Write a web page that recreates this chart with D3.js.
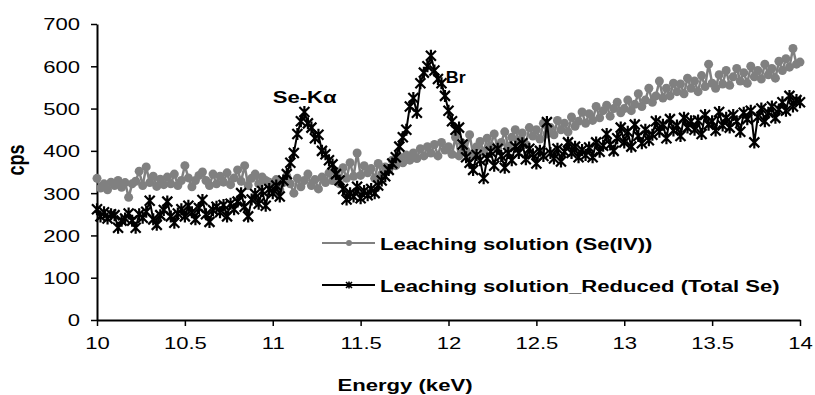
<!DOCTYPE html>
<html>
<head>
<meta charset="utf-8">
<script src="https://cdn.jsdelivr.net/npm/d3@7"></script>
<style>
  body { margin: 0; background: #fff; }
  svg { display: block; font-family: "Liberation Sans", Arial, sans-serif; }
</style>
</head>
<body>
<div id="container"></div>
<script>
// spectrum channels, 10 - 14 keV every 0.02 keV
const energy = d3.range(201).map(i => 10 + i * 0.02)

// Leaching solution (Se(IV)), cps
const seIV = [
    335, 312, 322, 308, 326, 318, 330, 314, 325, 290,
    322, 328, 352, 318, 362, 325, 340, 316, 333, 320,
    338, 322, 345, 318, 330, 365, 336, 315, 330, 342,
    350, 330, 318, 345, 322, 340, 326, 348, 320, 336,
    355, 328, 365, 318, 335, 345, 322, 338, 330, 326,
    318, 332, 308, 325, 340, 322, 300, 335, 315, 330,
    345, 318, 332, 310, 338, 325, 348, 330, 352, 322,
    360, 335, 372, 340, 395, 342, 365, 348, 358, 335,
    370, 345, 362, 355, 378, 365, 385, 372, 390, 378,
    395, 382, 405, 388, 410, 395, 415, 388, 420, 402,
    410, 392, 432, 388, 418, 400, 438, 392, 410, 422,
    398, 430, 412, 440, 405, 420, 445, 410, 432, 450,
    425, 442, 415, 455, 435, 450, 428, 465, 440, 455,
    438, 472, 450, 465, 445, 480, 458, 470, 492, 465,
    488, 472, 505, 478, 495, 508, 482, 500, 515, 490,
    500, 520, 495, 510, 535, 505, 520, 548, 515, 530,
    565, 525, 548, 530, 560, 540, 558, 535, 572, 548,
    565, 540, 578, 552, 605, 560, 548, 580, 558, 590,
    555, 575, 595, 565, 585, 560, 600, 575, 590, 570,
    605, 580, 595, 572, 612, 590, 618, 598, 642, 605,
    610
]

// Leaching solution_Reduced (Total Se), cps
const totalSe = [
    262, 245, 255, 240, 250, 248, 218, 235, 240, 252,
    235, 218, 250, 242, 256, 282, 238, 225, 248, 260,
    280, 245, 230, 252, 262, 245, 270, 255, 238, 265,
    284, 250, 232, 260, 268, 255, 272, 245, 275, 262,
    280, 300, 268, 245, 285, 298, 275, 305, 270, 310,
    300, 318, 292, 330, 345, 372, 395, 440, 470, 492,
    465, 455, 430, 438, 400, 392, 378, 368, 345, 330,
    310, 285, 300, 292, 315, 288, 305, 295, 310, 300,
    318, 330, 340, 355, 370, 385, 410, 432, 450, 505,
    525, 490, 560, 585, 600, 625, 590, 570, 560, 530,
    495, 470, 450, 455, 415, 385, 372, 355, 390, 378,
    335, 382, 398, 365, 405, 388, 360, 395, 378, 410,
    395, 418, 380, 405, 392, 370, 400, 388, 468, 395,
    382, 405, 375, 398, 420, 395, 410, 385, 402, 390,
    408, 385, 420, 398, 412, 440, 415, 400, 430, 455,
    420, 445, 410, 462, 435, 418, 450, 425, 438, 470,
    445, 462, 430, 475, 448, 460, 435, 478, 455, 470,
    450, 472, 440, 485, 462, 470, 448, 492, 460, 478,
    455, 485, 470, 445, 490, 475, 495, 420, 480, 500,
    470, 490, 505, 478, 498, 515, 495, 530, 505, 520,
    515
]

const xTicks = [10, 10.5, 11, 11.5, 12, 12.5, 13, 13.5, 14]
const yTicks = [0, 100, 200, 300, 400, 500, 600, 700]
const seriesNames = ['Leaching solution (Se(IV))', 'Leaching solution_Reduced (Total Se)']
const peaks = [{ label: 'Se-K\u03b1', x: 11.0, y: 512 }, { label: 'Br', x: 11.985, y: 560 }]

const width = 815
const height = 395
const margin = { top: 24, right: 15, bottom: 75, left: 97 }
const sx = 1.3  // text in the picture is wide

const svg = d3.select('#container')
    .append('svg')
    .attr('width', width)
    .attr('height', height)

const xScale = d3.scaleLinear()
    .domain([10, 14])
    .range([margin.left, width - margin.right])
const yScale = d3.scaleLinear()
    .domain([0, 700])
    .range([height - margin.bottom, margin.top])

// axes
const xAxis = d3.axisBottom(xScale).tickValues(xTicks).tickSize(6).tickSizeOuter(0).tickFormat(d3.format('~g'))
const gx = svg.append('g')
    .attr('transform', `translate(0, ${yScale(0)})`)
    .call(xAxis)
gx.select('.domain').attr('stroke-width', 2)
gx.selectAll('.tick line').attr('stroke-width', 1.5)
gx.selectAll('.tick text')
    .attr('y', 29).attr('dy', 0)
    .attr('font-size', 17).attr('fill', '#000')
    .attr('font-family', '"Liberation Sans", Arial, sans-serif')
    .attr('transform', `scale(${sx},1)`)

const yAxis = d3.axisLeft(yScale).tickValues(yTicks).tickSize(6).tickSizeOuter(0)
const gy = svg.append('g')
    .attr('transform', `translate(${xScale(10)}, 0)`)
    .call(yAxis)
gy.select('.domain').attr('stroke-width', 2)
gy.selectAll('.tick line').attr('stroke-width', 1.5)
gy.selectAll('.tick text')
    .attr('x', -17 / sx).attr('dy', '0.35em')
    .attr('font-size', 17).attr('fill', '#000')
    .attr('font-family', '"Liberation Sans", Arial, sans-serif')
    .attr('transform', `scale(${sx},1)`)

svg.append('text')
    .text('Energy (keV)')
    .attr('text-anchor', 'middle')
    .attr('font-weight', 'bold')
    .attr('font-size', 17)
    .attr('transform', `translate(405, 391) scale(${sx},1)`)

svg.append('text')
    .text('cps')
    .attr('text-anchor', 'middle')
    .attr('font-weight', 'bold')
    .attr('font-size', 18)
    .attr('transform', `translate(24, 160) scale(${sx},1) rotate(-90)`)

// series
const line = d3.line()
    .x((d, i) => xScale(energy[i]))
    .y(d => yScale(d))

const star = 'M0,-6V6M-5,-5L5,5M-5,5L5,-5'

svg.append('path')
    .datum(seIV)
    .attr('d', line)
    .attr('fill', 'none')
    .attr('stroke', '#808080')
    .attr('stroke-width', 2.5)

svg.append('g')
    .selectAll('circle')
    .data(seIV)
    .join('circle')
    .attr('cx', (d, i) => xScale(energy[i]))
    .attr('cy', d => yScale(d))
    .attr('r', 4.5)
    .attr('fill', '#808080')

svg.append('path')
    .datum(totalSe)
    .attr('d', line)
    .attr('fill', 'none')
    .attr('stroke', '#000')
    .attr('stroke-width', 2)

svg.append('g')
    .selectAll('path')
    .data(totalSe)
    .join('path')
    .attr('d', star)
    .attr('transform', (d, i) => `translate(${xScale(energy[i])}, ${yScale(d)})`)
    .attr('stroke', '#000')
    .attr('stroke-width', 2.2)
    .attr('fill', 'none')

// peak labels
svg.selectAll('.peak')
    .data(peaks)
    .join('text')
    .attr('class', 'peak')
    .text(d => d.label)
    .attr('font-weight', 'bold')
    .attr('font-size', 17)
    .attr('transform', d => `translate(${xScale(d.x)}, ${yScale(d.y)}) scale(${d.label === 'Br' ? 1.05 : sx},1)`)

// legend
const legend = svg.append('g')
    .attr('transform', 'translate(322, 243)')

seriesNames.forEach((name, i) => {
    const row = legend.append('g').attr('transform', `translate(0, ${i * 42})`)
    row.append('line')
        .attr('x1', 0).attr('x2', 53)
        .attr('stroke', i ? '#000' : '#808080')
        .attr('stroke-width', 2)
    if (i) {
        row.append('path')
            .attr('d', 'M0,-3.5V3.5M-3,-3L3,3M-3,3L3,-3')
            .attr('transform', 'translate(27, 0)')
            .attr('stroke', '#000').attr('stroke-width', 1.6)
    } else {
        row.append('circle').attr('cx', 27).attr('r', 3).attr('fill', '#808080')
    }
    row.append('text')
        .text(name)
        .attr('font-weight', 'bold')
        .attr('font-size', 17)
        .attr('transform', `translate(58, 6.5) scale(${sx},1)`)
})
</script>
</body>
</html>
